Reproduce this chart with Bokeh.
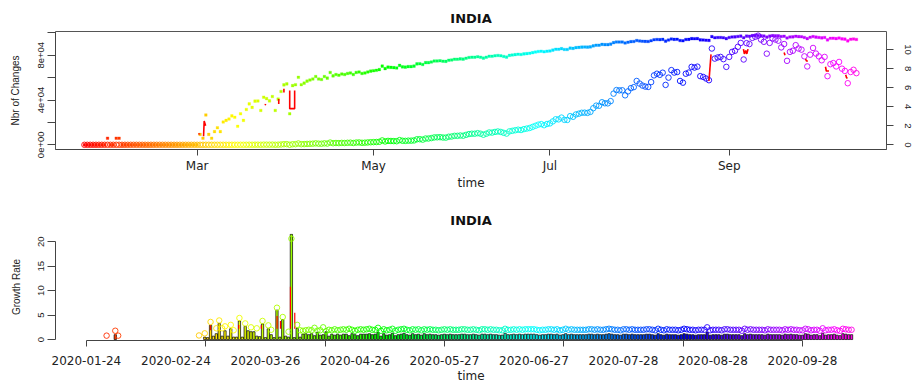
import math
import colorsys
import numpy as np
import pandas as pd
from bokeh.plotting import figure
from bokeh.models import Range1d, LinearAxis, FixedTicker
from bokeh.layouts import column
from bokeh.embed import file_html
from bokeh.resources import INLINE

T0 = pd.Timestamp("2020-01-01")


def day(s):
    return (pd.Timestamp(s) - T0) / pd.Timedelta(days=1)


dates = pd.date_range("2020-01-22", "2020-10-15", freq="D")
days = [float((d - T0).days) for d in dates]

# ---------------- daily new cases (left axis, circles) ----------------
nc_jan = [0, 0, 0, 0, 0, 0, 0, 0, 1, 0]
nc_feb = [0, 1, 1, 0, 0, 0, 0, 0, 0, 0, 0, 0, 0, 0, 0, 0, 0, 0, 0, 0, 0, 0, 0, 0, 0, 0, 0, 0, 0]
nc_mar = [0, 2, 1, 22, 2, 1, 3, 5, 3, 10, 12, 14, 20, 17, 6, 25, 12, 40, 73, 50, 97, 99, 36, 148, 127,
          100, 158, 36, 120, 270, 544]
nc_apr = [600, 25, 500, 550, 1200, 550, 650, 800, 900, 1000, 1300, 1000, 950, 1300, 1100, 2000, 1400,
          1600, 1500, 1700, 1600, 1800, 1900, 1600, 2000, 2100, 1800, 1900, 2100, 2300]
nc_may = [2400, 2500, 2700, 3900, 3000, 3500, 3400, 3300, 3200, 4200, 3600, 3500, 3700, 3700, 3900,
          4900, 5000, 4600, 5600, 5600, 6000, 6600, 6700, 6800, 6500, 6400, 7200, 7400, 8000, 8000, 8300]
nc_jun = [8100, 8900, 9600, 9900, 9900, 10400, 9900, 9000, 9900, 11000, 10900, 11500, 11900, 11500,
          10700, 10000, 12000, 12500, 13000, 13500, 13200, 14000, 14500, 15000, 16000, 17000, 18000,
          18500, 17500, 18600]
nc_jul = [19100, 20900, 22800, 22700, 24300, 22300, 22200, 25600, 25000, 27100, 27800, 28600, 28700,
          28500, 29400, 32700, 35000, 34900, 38000, 37100, 37000, 39000, 45700, 48900, 48600, 48700,
          44200, 47700, 50600, 51500, 57000]
nc_aug = [54700, 52900, 52000, 51700, 56000, 62000, 63500, 62500, 64400, 53500, 60000, 66700, 64500,
          65000, 57000, 55500, 63500, 64500, 69600, 69000, 69800, 61300, 60600, 59200, 57700, 86000,
          77000, 78000, 78500, 76500, 69600]
nc_sep = [78500, 83000, 84000, 87500, 91000, 76200, 90800, 90000, 95500, 96500, 97500, 94000, 92000,
          81400, 91000, 95000, 94000, 93000, 87000, 90000, 75000, 83000, 84000, 89000, 86000, 85000,
          79000, 70000, 80500, 86500]
nc_oct = [81500, 79000, 75500, 78500, 61300, 72000, 73000, 70000, 74000, 68000, 66000, 55000, 65000,
          67000, 64000]
new_cases = nc_jan + nc_feb + nc_mar + nc_apr + nc_may + nc_jun + nc_jul + nc_aug + nc_sep + nc_oct
assert len(new_cases) == len(dates), len(new_cases)
log_cases = list(np.log1p(np.array(new_cases, dtype=float)))  # right axis, squares

# red line pieces of the upper panel (right-axis units)
red_top_x = [
    ["2020-03-03 05:00", "2020-03-03 10:00", "2020-03-03 22:00"],
    ["2020-03-01 10:00", "2020-03-01 20:00"],
    ["2020-03-24 12:00", "2020-03-24 16:00"],
    ["2020-03-29 05:00", "2020-03-29 05:00"],
    ["2020-03-31 00:00", "2020-03-31 00:00"],
    ["2020-04-02 00:00", "2020-04-02 00:00", "2020-04-03 17:00", "2020-04-03 17:00"],
    ["2020-08-25 00:00", "2020-08-25 17:00"],
    ["2020-09-05 22:00", "2020-09-06 06:00", "2020-09-06 17:00", "2020-09-07 02:00", "2020-09-07 12:00"],
    ["2020-09-20 00:00", "2020-09-20 07:00"],
    ["2020-09-27 10:00", "2020-09-27 17:00", "2020-09-28 05:00"],
    ["2020-10-04 07:00", "2020-10-04 14:00", "2020-10-05 12:00"],
    ["2020-10-11 07:00", "2020-10-11 14:00", "2020-10-11 22:00"],
]
red_top_y = [
    [0.9, 2.5, 2.0],
    [1.15, 1.15],
    [4.15, 4.3],
    [4.8, 4.3],
    [5.9, 5.5],
    [5.7, 3.8, 3.8, 5.7],
    [6.7, 9.5],
    [10.05, 9.55, 9.9, 9.55, 10.05],
    [9.7, 9.4],
    [9.02, 8.8, 8.8],
    [8.2, 7.75, 7.75],
    [7.35, 7.05, 7.0],
]

# ---------------- growth rate (lower panel) ----------------
N = None
gb_jan = [N] * 10
gb_feb = [N, N, 1.0] + [N] * 26
gb_mar = [N] * 4 + [0.5, 0.4, 2.9, 0.7, 1.2, 3.3, 0.7, 1.8, 0.7, 2.2, 0.5, 0.5, 3.8, 0.5, 2.7, 1.8, 1.6,
                    1.6, 0.7, 0.6, 3.2, 0.4, 2.2, 1.0, 0.4, 6.0, 0.5]
gb_apr = [4.1, 0.7, 0.5, 21.5, 0.4, 2.3, 0.5, 1.1, 1.2, 1.0, 1.2, 0.8, 1.5, 0.9, 1.0, 1.6, 0.7, 1.1, 0.9,
          1.1, 0.9, 1.1, 1.1, 0.8, 1.2, 1.0, 0.8, 1.1, 1.1, 1.1]
gb_may = [1.2, 1.0, 1.1, 1.5, 0.7, 1.2, 0.9, 1.0, 1.3, 0.8, 1.0, 1.1, 1.3, 1.0, 0.9, 1.2, 1.0, 1.1, 0.9,
          1.2, 1.0, 1.1, 1.0, 1.0, 0.9, 1.0, 1.1, 1.0, 1.1, 1.0, 1.0]
gb_jun = [1.0, 1.1, 1.1, 1.0, 1.0, 1.1, 1.0, 0.9, 1.1, 1.1, 1.0, 1.1, 1.0, 1.0, 0.9, 0.9, 1.3, 1.0, 1.0,
          1.1, 1.0, 1.1, 1.0, 1.1, 1.1, 1.1, 1.1, 1.0, 0.9, 1.0]
gb_jul = [1.0, 1.1, 1.1, 1.0, 1.1, 0.9, 1.0, 1.2, 1.0, 1.1, 1.0, 1.0, 1.0, 1.0, 1.0, 1.1, 1.1, 1.0, 1.1,
          1.0, 1.0, 1.1, 1.2, 1.1, 1.0, 1.0, 0.9, 1.1, 1.1, 1.0, 1.1]
gb_aug = [1.0, 1.0, 1.0, 1.0, 1.1, 1.1, 1.0, 0.9, 1.2, 1.0, 0.9, 1.1, 1.0, 1.0, 1.0, 0.9, 1.0, 1.2, 1.1,
          1.0, 1.0, 0.9, 1.0, 1.0, 1.0, 1.5, 0.9, 1.0, 1.0, 1.0, 0.9]
gb_sep = [1.1, 1.1, 1.0, 1.0, 1.0, 1.0, 0.8, 1.2, 1.0, 1.1, 1.0, 1.0, 1.0, 1.0, 0.9, 1.1, 1.0, 1.0, 1.0,
          1.0, 0.9, 1.1, 1.0, 1.1, 1.0, 1.0, 0.9, 0.9, 1.2, 1.1]
gb_oct = [0.9, 1.0, 1.0, 0.8, 1.3, 0.9, 1.0, 1.0, 1.1, 0.9, 0.8, 1.2, 1.1, 1.0, 1.0]
growth_bars = gb_jan + gb_feb + gb_mar + gb_apr + gb_may + gb_jun + gb_jul + gb_aug + gb_sep + gb_oct
assert len(growth_bars) == len(dates), len(growth_bars)

gp_jan = [N] * 9 + [0.8]
gp_feb = [N, N, 1.8, 0.8] + [N] * 25
gp_mar = [N, N, 0.84, N, 1.27, N, 3.6, N, 2.3, 3.9, 2.3, 2.7, N, 3.0, 1.9, N, 4.4, N, 3.3, N, 2.5, N, 2.3,
          N, 3.8, N, 2.9, 2.0, N, 6.5, N]
gp_apr = [4.6, N, 1.6, 20.6, N, 3.0, 1.9, 1.8, 1.9, 2.0, 1.9, 2.4, 1.8, 1.9, 2.5, 1.7, 2.0, 1.9, 2.1, 1.9,
          2.0, 2.1, 2.0, 2.2, 2.0, 1.8, 2.0, 2.1, 2.0, 2.1]
gp_may = [2.2, 2.0, 2.0, 2.4, 1.8, 2.1, 1.9, 2.0, 2.2, 1.8, 2.0, 2.1, 2.2, 2.0, 1.9, 2.1, 2.0, 2.1, 1.9,
          2.1, 2.0, 2.1, 2.0, 2.0, 1.9, 2.0, 2.1, 2.0, 2.1, 2.0, 2.0]
gp_jun = [2.0, 2.1, 2.1, 2.0, 2.0, 2.1, 2.0, 1.9, 2.1, 2.1, 2.0, 2.1, 2.0, 2.0, 1.9, 1.9, 2.2, 2.0, 2.0,
          2.1, 2.0, 2.1, 2.0, 2.1, 2.1, 2.1, 2.1, 2.0, 1.9, 2.0]
gp_jul = [2.0, 2.1, 2.1, 2.0, 2.1, 1.9, 2.0, 2.2, 2.0, 2.1, 2.0, 2.0, 2.0, 2.0, 2.0, 2.1, 2.1, 2.0, 2.1,
          2.0, 2.0, 2.1, 2.2, 2.1, 2.0, 2.0, 1.9, 2.1, 2.1, 2.0, 2.1]
gp_aug = [2.0, 2.0, 2.0, 2.0, 2.1, 2.1, 2.0, 1.9, 2.2, 2.0, 1.9, 2.1, 2.0, 2.0, 2.0, 1.9, 2.0, 2.2, 2.1,
          2.0, 2.0, 1.9, 2.0, 2.0, 2.0, 2.5, 1.9, 2.0, 2.0, 2.0, 1.9]
gp_sep = [2.1, 2.1, 2.0, 2.0, 2.0, 2.0, 1.8, 2.2, 2.0, 2.1, 2.0, 2.0, 2.0, 2.0, 1.9, 2.1, 2.0, 2.0, 2.0,
          2.0, 1.9, 2.1, 2.0, 2.1, 2.0, 2.0, 1.9, 1.9, 2.2, 2.1]
gp_oct = [1.9, 2.0, 2.0, 1.8, 2.3, 1.9, 2.0, 2.0, 2.1, 1.9, 1.8, 2.2, 2.1, 2.0, 2.0]
growth_pts = gp_jan + gp_feb + gp_mar + gp_apr + gp_may + gp_jun + gp_jul + gp_aug + gp_sep + gp_oct
assert len(growth_pts) == len(dates), len(growth_pts)

# red vertical strokes of the lower panel
red_bot_x = ["2020-03-06 23:00", "2020-03-16 18:00", "2020-03-24 14:00", "2020-03-30 01:00",
             "2020-03-31 05:00", "2020-04-03 16:00", "2020-04-05 04:00"]
red_bot_y0 = [1.9, 2.2, 2.2, 2.2, 2.2, 2.2, 2.2]
red_bot_y1 = [2.9, 3.0, 2.9, 4.8, 3.8, 10.8, 5.5]

# axis ticks and labels
top_tick_dates = ["2020-03-01", "2020-05-01", "2020-07-01", "2020-09-01"]
top_tick_labels = ["Mar", "May", "Jul", "Sep"]
left_ticks = [0, 20000, 40000, 60000, 80000, 100000]
left_labels = ["0e+00", "", "4e+04", "", "8e+04", ""]
right_ticks = [0, 2, 4, 6, 8, 10]
bot_label_dates = ["2020-01-24", "2020-02-24", "2020-03-26", "2020-04-26", "2020-05-27",
                   "2020-06-27", "2020-07-28", "2020-08-28", "2020-09-28"]
gr_ticks = [0, 5, 10, 15, 20]

# ---------------- colours (rainbow palette over the days) ----------------
n = len(dates)


def rainbow(i):
    r, g, b = colorsys.hsv_to_rgb(0.85 * i / (n - 1), 1.0, 1.0)
    return "#%02x%02x%02x" % (int(r * 255 + 0.5), int(g * 255 + 0.5), int(b * 255 + 0.5))


colors = [rainbow(i) for i in range(n)]

AX = "#444444"
TXT = "#222222"


def style_axis(ax, tick_out=6, label_font="DejaVu Sans", label_size="12px", vertical=False, standoff=4):
    ax.axis_line_color = AX
    ax.major_tick_line_color = AX
    ax.minor_tick_line_color = None
    ax.major_tick_in = 0
    ax.major_tick_out = tick_out
    ax.major_label_text_font = label_font
    ax.major_label_text_font_size = label_size
    ax.major_label_text_color = TXT
    ax.major_label_standoff = standoff
    if vertical:
        ax.major_label_orientation = "parallel"
    ax.axis_label_text_font_style = "normal"
    ax.axis_label_text_color = TXT


def style_title(p):
    p.title.align = "center"
    p.title.vertical_align = "middle"
    p.title.text_font = "DejaVu Sans"
    p.title.text_font_size = "13px"
    p.title.text_font_style = "bold"
    p.title.text_color = "#111111"


# ---------------- upper panel ----------------
p1 = figure(width=916, height=200, x_range=Range1d(11.0, 298.4), y_range=Range1d(-4200, 101200),
            output_backend="svg", toolbar_location=None, min_border_left=55, min_border_right=30,
            min_border_top=31, min_border_bottom=51, title="INDIA")
p1.extra_y_ranges = {"right": Range1d(-0.49, 11.9)}
p1.grid.visible = False
p1.outline_line_color = "#555555"
style_title(p1)

xa = p1.xaxis[0]
style_axis(xa, tick_out=6, standoff=3)
xa.ticker = FixedTicker(ticks=[day(d) for d in top_tick_dates])
xa.major_label_overrides = {int(day(d)): s for d, s in zip(top_tick_dates, top_tick_labels)}
xa.axis_label = "time"
xa.axis_label_text_font = "DejaVu Sans"
xa.axis_label_text_font_size = "12px"
xa.axis_label_standoff = 0

ya = p1.yaxis[0]
style_axis(ya, tick_out=8, label_font="Liberation Sans", label_size="9.5px", vertical=True, standoff=3)
ya.ticker = FixedTicker(ticks=left_ticks)
ya.major_label_overrides = {t: s for t, s in zip(left_ticks, left_labels)}
ya.bounds = (left_ticks[0], left_ticks[-1])
ya.axis_label = "Nbr of Changes"
ya.axis_label_text_font = "Liberation Sans"
ya.axis_label_text_font_size = "10px"
ya.axis_label_standoff = 15

ra = LinearAxis(y_range_name="right", ticker=FixedTicker(ticks=right_ticks))
style_axis(ra, tick_out=7, label_font="Liberation Sans", label_size="9.5px", vertical=True, standoff=11)
ra.bounds = (right_ticks[0], right_ticks[-1])
p1.add_layout(ra, "right")

p1.scatter(x=days, y=new_cases, marker="circle", size=5.5, fill_color=None, line_color=colors,
           line_width=0.9)
p1.scatter(x=days, y=log_cases, marker="square", size=2.6, fill_color=colors, line_color=colors,
           line_width=0.3, y_range_name="right")
p1.multi_line(xs=[[day(s) for s in seg] for seg in red_top_x], ys=red_top_y, line_color="red",
              line_width=1.6, y_range_name="right")

# ---------------- lower panel ----------------
p2 = figure(width=916, height=185, x_range=Range1d(12.3, 300.1), y_range=Range1d(-0.19, 21.66),
            output_backend="svg", toolbar_location=None, min_border_left=55, min_border_right=30,
            min_border_top=33, min_border_bottom=37, title="INDIA")
p2.grid.visible = False
p2.outline_line_color = None
style_title(p2)

label_days = [day(d) for d in bot_label_dates]
mark_days = list(np.linspace(label_days[0], label_days[-1], 7))
xb = p2.xaxis[0]
style_axis(xb, tick_out=0, standoff=9)
xb.ticker = FixedTicker(ticks=label_days, minor_ticks=mark_days)
xb.minor_tick_line_color = AX
xb.minor_tick_in = 0
xb.minor_tick_out = 6
xb.major_label_overrides = {int(d): s for d, s in zip(label_days, bot_label_dates)}
xb.bounds = (label_days[0], label_days[-1])
xb.axis_label = "time"
xb.axis_label_text_font = "DejaVu Sans"
xb.axis_label_text_font_size = "12px"
xb.axis_label_standoff = 1

yb = p2.yaxis[0]
style_axis(yb, tick_out=8, label_font="Liberation Sans", label_size="9.5px", vertical=True, standoff=3)
yb.ticker = FixedTicker(ticks=gr_ticks)
yb.bounds = (gr_ticks[0], gr_ticks[-1])
yb.axis_label = "Growth Rate"
yb.axis_label_text_font = "Liberation Sans"
yb.axis_label_text_font_size = "10px"
yb.axis_label_standoff = 14

bi = [i for i, v in enumerate(growth_bars) if v is not None]
p2.vbar(x=[days[i] for i in bi], top=[growth_bars[i] for i in bi], bottom=0, width=0.8,
        fill_color=[colors[i] for i in bi], line_color="black", line_width=0.7)
p2.segment(x0=[day(s) for s in red_bot_x], y0=red_bot_y0, x1=[day(s) for s in red_bot_x], y1=red_bot_y1,
           line_color="red", line_width=1.2)
pi_ = [i for i, v in enumerate(growth_pts) if v is not None]
p2.scatter(x=[days[i] for i in pi_], y=[growth_pts[i] for i in pi_], marker="circle", size=5.5,
           fill_color=None, line_color=[colors[i] for i in pi_], line_width=0.9)

layout = column(p1, p2, spacing=0)
open("out.html", "w").write(file_html(layout, INLINE))
